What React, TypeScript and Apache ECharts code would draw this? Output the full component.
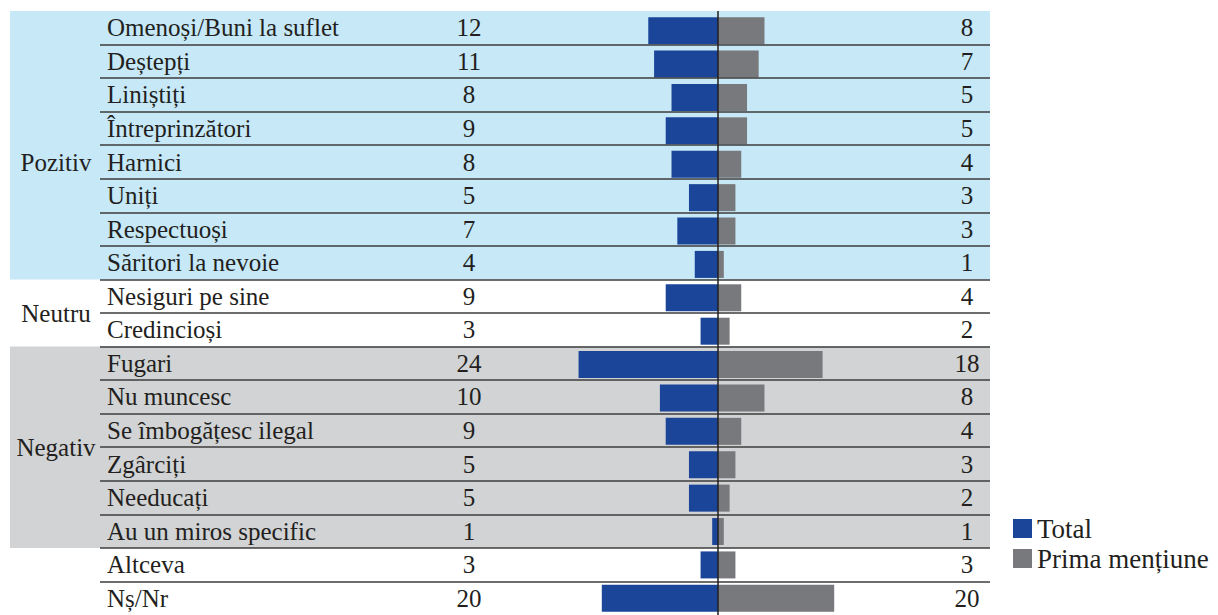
import React, { useEffect, useRef } from 'react';
import * as echarts from 'echarts';

const categories = [
  'Omenoși/Buni la suflet',
  'Deștepți',
  'Liniștiți',
  'Întreprinzători',
  'Harnici',
  'Uniți',
  'Respectuoși',
  'Săritori la nevoie',
  'Nesiguri pe sine',
  'Credincioși',
  'Fugari',
  'Nu muncesc',
  'Se îmbogățesc ilegal',
  'Zgârciți',
  'Needucați',
  'Au un miros specific',
  'Altceva',
  'Nș/Nr',
];
const totalValues = [12, 11, 8, 9, 8, 5, 7, 4, 9, 3, 24, 10, 9, 5, 5, 1, 3, 20];
const firstMentionValues = [8, 7, 5, 5, 4, 3, 3, 1, 4, 2, 18, 8, 4, 3, 2, 1, 3, 20];
const seriesNames = ['Total', 'Prima mențiune'];
const groupNames = ['Pozitiv', 'Neutru', 'Negativ'];
const groupLabelRows = [4.5, 9, 13];
const positiveBand = [0, 8];
const negativeBand = [10, 16];

const FONT = 'Liberation Serif';
const TEXT = '#231f20';
const BLUE = '#1b4599';
const GRAY = '#78797c';

export default function App() {
  const ref = useRef<HTMLDivElement>(null);

  useEffect(() => {
    if (!ref.current) return;
    const chart = echarts.init(ref.current, null, { renderer: 'svg' });
    const N = categories.length;
    const pxPerUnit = 5.81;
    const zeroX = 718;
    const gridL = 10;
    const gridR = 990;
    const xMin = -(zeroX - gridL) / pxPerUnit;
    const xMax = (gridR - zeroX) / pxPerUnit;
    const lineStartX = -(zeroX - 100) / pxPerUnit;
    const groupX = -(zeroX - 56) / pxPerUnit;
    const rowH = 33.7;
    const top = 11;
    const gridH = rowH * N;
    const labelText = { fontFamily: FONT, fontSize: 25, color: TEXT };
    const noLines = {
      axisLine: { show: false },
      axisTick: { show: false },
      splitLine: { show: false },
    };

    const separators: any[] = [];
    for (let i = 1; i < N; i++) {
      separators.push([{ coord: [lineStartX, i] }, { coord: [xMax, i] }]);
    }

    const option: any = {
      animation: false,
      textStyle: { fontFamily: FONT },
      grid: [
        { left: gridL, top, width: gridR - gridL, height: gridH },
        { left: gridL, top: top + 3, width: gridR - gridL, height: gridH },
      ],
      xAxis: [
        { type: 'value', gridIndex: 0, min: xMin, max: xMax, show: false },
        { type: 'value', gridIndex: 1, min: xMin, max: xMax, show: false },
      ],
      yAxis: [
        {
          type: 'category',
          gridIndex: 0,
          position: 'left',
          z: 10,
          data: categories,
          inverse: true,
          ...noLines,
          axisLabel: { inside: true, margin: 97, interval: 0, ...labelText },
        },
        {
          type: 'category',
          gridIndex: 0,
          position: 'left',
          z: 10,
          data: totalValues.map(String),
          inverse: true,
          ...noLines,
          axisLabel: { inside: true, margin: 469 - gridL, align: 'center', interval: 0, ...labelText },
        },
        {
          type: 'category',
          gridIndex: 0,
          position: 'right',
          z: 10,
          data: firstMentionValues.map(String),
          inverse: true,
          ...noLines,
          axisLabel: { inside: true, margin: gridR - 967, align: 'center', interval: 0, ...labelText },
        },
        { type: 'value', gridIndex: 0, position: 'left', min: 0, max: N, inverse: true, show: false },
        { type: 'category', gridIndex: 1, data: categories, inverse: true, show: false },
      ],
      legend: {
        orient: 'vertical',
        left: 1013,
        top: 515,
        padding: 0,
        itemWidth: 19,
        itemHeight: 19,
        itemGap: 3,
        icon: 'rect',
        selectedMode: false,
        data: seriesNames,
        textStyle: { fontFamily: FONT, fontSize: 27, color: TEXT, lineHeight: 27 },
      },
      series: [
        {
          name: seriesNames[0],
          type: 'bar',
          xAxisIndex: 1,
          yAxisIndex: 4,
          stack: 'pair',
          barWidth: 27,
          data: totalValues.map((v) => -v),
          itemStyle: { color: BLUE },
          silent: true,
        },
        {
          name: seriesNames[1],
          type: 'bar',
          xAxisIndex: 1,
          yAxisIndex: 4,
          stack: 'pair',
          barWidth: 27,
          data: firstMentionValues,
          itemStyle: { color: GRAY },
          silent: true,
        },
        {
          type: 'scatter',
          xAxisIndex: 0,
          yAxisIndex: 3,
          symbolSize: 0,
          silent: true,
          z: 10,
          itemStyle: { opacity: 1, color: TEXT },
          data: groupNames.map((n, i) => ({ name: n, value: [groupX, groupLabelRows[i]] })),
          label: {
            show: true,
            position: 'inside',
            formatter: '{b}',
            opacity: 1,
            textBorderWidth: 0,
            ...labelText,
          },
          markArea: {
            silent: true,
            z: 1,
            data: [
              [
                { coord: [xMin, positiveBand[0]], itemStyle: { color: '#c6e8f7', opacity: 1 } },
                { coord: [xMax, positiveBand[1]] },
              ],
              [
                { coord: [xMin, negativeBand[0]], itemStyle: { color: '#d1d3d4', opacity: 1 } },
                { coord: [xMax, negativeBand[1]] },
              ],
            ],
          },
          markLine: {
            silent: true,
            z: 5,
            symbol: ['none', 'none'],
            label: { show: false },
            lineStyle: { color: '#3c3c3c', width: 1.5, type: 'solid', opacity: 1 },
            data: [
              ...separators,
              { xAxis: 0, lineStyle: { color: TEXT, width: 1.5, type: 'solid', opacity: 1 } },
            ],
          },
        },
      ],
    };
    chart.setOption(option);
    return () => chart.dispose();
  }, []);

  return (
    <div
      ref={ref}
      style={{ position: 'absolute', left: 0, top: 0, width: 1218, height: 615, background: '#fff' }}
    />
  );
}
